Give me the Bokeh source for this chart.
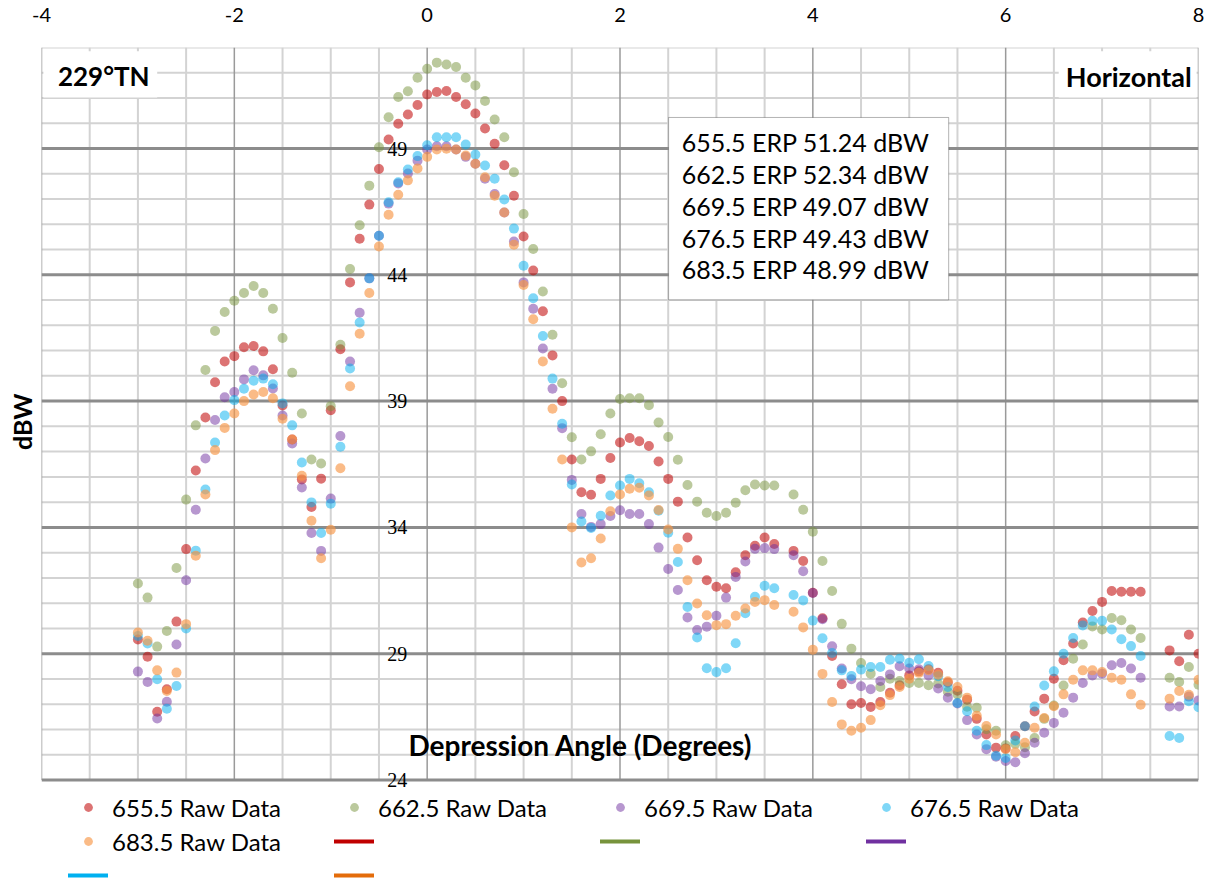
import numpy as np
from bokeh.plotting import figure
from bokeh.models import (Range1d, FixedTicker, Legend, LegendItem, Label, Title,
                          LabelSet, BoxAnnotation, ColumnDataSource)
from bokeh.embed import file_html
from bokeh.resources import INLINE

nan = float("nan")

# ---------------- data ----------------
angle_deg = [-3.0, -2.9, -2.8, -2.7, -2.6, -2.5, -2.4, -2.3, -2.2, -2.1,
             -2.0, -1.9, -1.8, -1.7, -1.6, -1.5, -1.4, -1.3, -1.2, -1.1,
             -1.0, -0.9, -0.8, -0.7, -0.6, -0.5, -0.4, -0.3, -0.2, -0.1,
             0.0, 0.1, 0.2, 0.3, 0.4, 0.5, 0.6, 0.7, 0.8, 0.9,
             1.0, 1.1, 1.2, 1.3, 1.4, 1.5, 1.6, 1.7, 1.8, 1.9,
             2.0, 2.1, 2.2, 2.3, 2.4, 2.5, 2.6, 2.7, 2.8, 2.9,
             3.0, 3.1, 3.2, 3.3, 3.4, 3.5, 3.6, 3.7, 3.8, 3.9,
             4.0, 4.1, 4.2, 4.3, 4.4, 4.5, 4.6, 4.7, 4.8, 4.9,
             5.0, 5.1, 5.2, 5.3, 5.4, 5.5, 5.6, 5.7, 5.8, 5.9,
             6.0, 6.1, 6.2, 6.3, 6.4, 6.5, 6.6, 6.7, 6.8, 6.9,
             7.0, 7.1, 7.2, 7.3, 7.4, 7.5, 7.6, 7.7, 7.8, 7.9,
             8.0]

raw_655_5 = [29.56, 28.88, 26.70, 27.59, 30.27, 33.14, 36.25, 38.35, 39.75, 40.57,
             40.78, 41.13, 41.18, 40.97, 40.26, 38.83, 37.48, 35.90, 34.81, 35.93,
             38.64, 41.05, 43.70, 45.43, 46.78, 48.19, 49.36, 49.98, 50.35, 50.72,
             51.14, 51.24, 51.28, 51.04, 50.75, 50.39, 49.79, 49.19, 48.34, 47.13,
             45.52, 44.17, 42.56, 40.81, 39.00, 36.69, 35.39, 35.29, 35.92, 36.75,
             37.36, 37.54, 37.41, 37.22, 36.61, 35.92, 35.02, 33.60, 32.70, 31.91,
             31.65, 31.59, 32.22, 32.90, 33.27, 33.60, 33.34, nan, 33.07, 32.67,
             31.41, 30.40, 28.91, 27.79, 27.00, 27.05, 26.89, 27.09, 27.45, 27.75,
             28.14, 28.30, 28.38, 28.24, 27.86, 27.53, 27.18, 26.42, 25.80, 25.28,
             25.25, 25.74, 26.13, 26.71, 27.22, 28.01, 28.74, 29.40, 30.23, 30.69,
             31.05, 31.48, 31.45, 31.45, 31.45, nan, nan, 29.13, 28.70, 29.75,
             29.00]

raw_662_5 = [31.78, 31.22, 29.28, 29.90, 32.39, 35.10, 38.04, 40.23, 41.78, 42.53,
             42.97, 43.28, 43.56, 43.28, 42.66, 41.50, 40.12, 38.51, 36.69, 36.53,
             38.80, 41.23, 44.23, 45.96, 47.53, 49.05, 50.24, 51.04, 51.27, 51.80,
             52.16, 52.40, 52.33, 52.23, 51.80, 51.50, 50.88, 50.15, 49.45, 48.06,
             46.41, 45.02, 43.34, 41.63, 39.71, 37.57, 36.69, 37.01, 37.69, 38.51,
             39.08, 39.11, 39.11, 38.84, 38.15, 37.58, 36.68, 35.68, 35.02, 34.58,
             34.45, 34.58, 34.98, 35.47, 35.70, 35.66, 35.66, nan, 35.30, 34.70,
             33.83, 32.67, 31.48, 30.18, 29.20, 28.63, 28.21, 27.68, 28.01, 27.92,
             27.84, 27.84, 27.75, 27.82, 27.49, 27.39, 26.90, 26.86, 26.01, 25.95,
             25.37, 25.43, 25.30, 25.66, 26.42, 26.95, 27.74, 28.80, 29.36, 30.08,
             29.96, 30.41, 30.32, 29.96, 29.62, nan, nan, 28.05, 27.88, 28.47,
             27.77]

raw_669_5 = [28.29, 27.88, 26.43, 27.10, 29.36, 31.91, 34.70, 36.73, 38.25, 39.15,
             39.36, 39.86, 40.22, 40.02, 39.50, 38.43, 37.32, 35.58, 33.78, 33.07,
             35.14, 37.62, 40.57, 42.50, 43.86, 45.55, 46.82, 47.62, 48.01, 48.52,
             48.96, 49.09, 49.09, 48.96, 48.67, 48.40, 47.80, 47.20, 46.47, 45.32,
             43.70, 42.66, 41.08, 39.49, 37.93, 35.88, 34.53, 34.02, 34.13, 34.45,
             34.68, 34.53, 34.53, 34.13, 33.20, 32.35, 31.52, 30.43, 29.94, 30.07,
             30.50, 31.22, 32.04, 32.65, 33.15, 33.18, 33.14, nan, 32.90, 32.26,
             31.40, 30.36, 29.29, 28.41, 27.99, 27.71, 27.59, 27.92, 28.18, 28.50,
             28.41, 28.38, 28.14, 27.62, 27.26, 27.03, 26.37, 25.80, 25.22, 24.92,
             24.75, 24.70, 25.06, 25.47, 25.87, 26.26, 26.66, 27.26, 27.84, 28.14,
             28.21, 28.54, 28.63, 28.41, 28.05, nan, nan, 26.91, 26.91, 27.30,
             27.15]

raw_676_5 = [29.70, 29.40, 27.99, 26.82, 27.72, 30.00, 33.08, 35.50, 37.36, 38.43,
             39.04, 39.49, 39.81, 39.89, 39.67, 38.91, 38.04, 36.57, 34.99, 33.78,
             34.94, 37.19, 40.29, 42.11, 43.86, 45.55, 46.87, 47.66, 48.17, 48.70,
             49.13, 49.45, 49.45, 49.45, 49.16, 48.76, 48.33, 47.80, 46.98, 45.83,
             44.36, 43.07, 41.58, 39.89, 38.10, 35.70, 34.23, 33.98, 34.46, 35.26,
             35.66, 35.92, 35.75, 35.39, 34.66, 33.79, 32.63, 30.85, 29.64, 28.42,
             28.27, 28.42, 29.41, 30.60, 31.25, 31.69, 31.59, nan, 31.32, 31.11,
             30.31, 29.61, 29.03, 28.34, 28.12, 28.37, 28.47, 28.47, 28.76, 28.80,
             28.64, 28.78, 28.51, 28.11, 27.68, 27.05, 26.72, 25.95, 25.38, 24.96,
             24.87, 25.56, 26.13, 26.91, 27.74, 28.30, 29.00, 29.62, 30.12, 30.30,
             30.30, 29.96, 29.57, 29.30, 28.91, nan, nan, 25.74, 25.66, 27.12,
             26.88]

raw_683_5 = [29.84, 29.51, 28.34, 27.52, 28.25, 30.17, 32.88, 35.30, 37.06, 37.94,
             38.51, 39.00, 39.26, 39.36, 39.11, 38.30, 37.48, 36.04, 34.26, 32.78,
             33.91, 36.34, 39.59, 41.67, 43.28, 45.12, 46.38, 47.17, 47.74, 48.21,
             48.67, 48.96, 48.99, 48.96, 48.72, 48.40, 47.86, 47.13, 46.47, 45.19,
             43.60, 42.24, 40.57, 38.70, 36.69, 34.00, 32.61, 32.78, 33.56, 34.64,
             35.30, 35.53, 35.57, 35.26, 34.69, 33.92, 33.15, 31.91, 30.99, 30.52,
             30.13, 30.17, 30.50, 30.79, 31.05, 31.12, 30.93, nan, 30.66, 30.04,
             29.16, 28.20, 27.09, 26.20, 25.95, 26.07, 26.37, 26.96, 27.36, 27.68,
             28.01, 28.24, 28.34, 28.17, 27.91, 27.68, 27.26, 26.54, 26.14, 25.80,
             25.22, 25.10, 25.47, 26.07, 26.45, 26.92, 27.39, 27.97, 28.34, 28.34,
             28.27, 28.05, 27.97, 27.39, 26.98, nan, nan, 27.22, 27.52, 27.37,
             27.97]

channels = ["655.5", "662.5", "669.5", "676.5", "683.5"]
erp_dbw = [51.24, 52.34, 49.07, 49.43, 48.99]

x_tick_vals = [-4, -2, 0, 2, 4, 6, 8]
y_tick_vals = [24, 29, 34, 39, 44, 49]
y_top = 53

# ---------------- styles ----------------
FONT = "Lato"
dot_colors = ["#C00000", "#77933C", "#7030A0", "#00B0F0", "#F79646"]
dot_alphas = [0.55, 0.5, 0.5, 0.5, 0.65]
line_colors = ["#C00000", "#77933C", "#7030A0", "#00B0F0", "#E46C0A"]

src = ColumnDataSource(data=dict(
    angle=np.array(angle_deg, dtype=float),
    s655=np.array(raw_655_5, dtype=float),
    s662=np.array(raw_662_5, dtype=float),
    s669=np.array(raw_669_5, dtype=float),
    s676=np.array(raw_676_5, dtype=float),
    s683=np.array(raw_683_5, dtype=float),
))
cols = ["s655", "s662", "s669", "s676", "s683"]

# the frame reaches down to the canvas bottom so that the legend area
# (below y = 24) belongs to it; grid lines are limited to 24..53
y_bottom = 19.98
p = figure(width=1208, height=881, x_range=Range1d(x_tick_vals[0], x_tick_vals[-1]),
           y_range=Range1d(y_bottom, y_top),
           output_backend="svg", toolbar_location=None, x_axis_location="above",
           min_border_left=41, min_border_right=10, min_border_top=47,
           min_border_bottom=0)
p.outline_line_color = None
p.background_fill_color = "white"
p.border_fill_color = "white"
p.xgrid.visible = False
p.ygrid.visible = False

# x axis (top)
x_minor = [float(v) for v in np.arange(x_tick_vals[0], x_tick_vals[-1] + 0.01, 0.5)]
p.xaxis.ticker = FixedTicker(ticks=x_tick_vals, minor_ticks=[])
p.xaxis.major_label_overrides = {v: str(v) for v in x_tick_vals}
p.xaxis.axis_line_color = None
p.xaxis.major_tick_line_color = None
p.xaxis.minor_tick_line_color = None
p.xaxis.major_label_standoff = 20
p.xaxis.major_label_text_font = FONT
p.xaxis.major_label_text_font_size = "20px"
p.xaxis.major_label_text_color = "black"

# y axis hidden; its title is a side title placed beside the 24..53 span
p.yaxis.visible = False
p.add_layout(Title(text="dBW", align="right", offset=346, standoff=9,
                   text_font=FONT, text_font_style="bold", text_font_size="25px",
                   text_color="black"), "left")

# grid lines drawn as segments between 24 and 53 / -4 and 8
y_lo = y_tick_vals[0]
x_lo, x_hi = x_tick_vals[0], x_tick_vals[-1]
xv_minor = [v for v in x_minor if v not in x_tick_vals]
yh_minor = [v for v in range(y_lo, y_top + 1) if v not in y_tick_vals]
p.segment(x0=xv_minor, y0=[y_lo] * len(xv_minor), x1=xv_minor, y1=[y_top] * len(xv_minor),
          line_color="#d3d3d3", line_width=2)
p.segment(x0=[x_lo] * len(yh_minor), y0=yh_minor, x1=[x_hi] * len(yh_minor), y1=yh_minor,
          line_color="#d3d3d3", line_width=2)
p.segment(x0=x_tick_vals, y0=[y_lo] * len(x_tick_vals), x1=x_tick_vals,
          y1=[y_top] * len(x_tick_vals), line_color="#9a9a9a", line_width=1.5)
p.segment(x0=[x_lo] * len(y_tick_vals), y0=y_tick_vals, x1=[x_hi] * len(y_tick_vals),
          y1=y_tick_vals, line_color="#8c8c8c", line_width=3)

# y tick labels drawn at the x = 0 crossing
ylab_src = ColumnDataSource(data=dict(x=[0] * len(y_tick_vals), y=y_tick_vals,
                                      t=[str(v) for v in y_tick_vals]))
p.add_layout(LabelSet(x="x", y="y", text="t", source=ylab_src, x_offset=-20,
                      text_align="right", text_baseline="middle",
                      text_font=FONT, text_font_size="20px", text_color="black"))

# scatter series
scatter_renderers = []
for col, c, a in zip(cols, dot_colors, dot_alphas):
    r = p.scatter(x="angle", y=col, source=src, size=10, marker="circle",
                  fill_color=c, fill_alpha=a, line_color=None)
    scatter_renderers.append(r)

# line series of the original chart have no visible points; they only show in the legend
line_renderers = []
for c in line_colors:
    lr = p.line(x=[angle_deg[0]], y=[nan], line_color=c, line_width=4, line_cap="round")
    line_renderers.append(lr)

# annotations
p.add_layout(Label(x=1.59, y=25.37, text="Depression Angle (Degrees)",
                   text_align="center", text_baseline="middle", text_font=FONT,
                   text_font_style="bold", text_font_size="28px", text_color="black"))

p.add_layout(BoxAnnotation(left=-3.98, right=-2.80, top=52.85, bottom=51.02,
                           fill_color="white", fill_alpha=1, line_color=None))
p.add_layout(Label(x=-3.83, y=51.86, text="229°TN", text_align="left",
                   text_baseline="middle", text_font=FONT, text_font_style="bold",
                   text_font_size="26px", text_color="black"))
p.add_layout(BoxAnnotation(left=6.55, right=7.98, top=52.85, bottom=51.02,
                           fill_color="white", fill_alpha=1, line_color=None))
p.add_layout(Label(x=7.93, y=51.86, text="Horizontal", text_align="right",
                   text_baseline="middle", text_font=FONT, text_font_style="bold",
                   text_font_size="27px", text_color="black"))

p.add_layout(BoxAnnotation(left=2.504, right=5.409, top=50.23, bottom=43.01,
                           fill_color="white", fill_alpha=1, line_color="black",
                           line_width=1))
erp_top = 49.24
erp_step = 1.255
for i, (ch, v) in enumerate(zip(channels, erp_dbw)):
    p.add_layout(Label(x=2.64, y=erp_top - i * erp_step, text=f"{ch} ERP {v:.2f} dBW",
                       text_align="left", text_baseline="middle", text_font=FONT,
                       text_font_size="25px", text_color="black"))

# legend under the grid (third row partly cut by the canvas edge, as in the original)
items = [LegendItem(label=f"{ch} Raw Data", renderers=[r])
         for ch, r in zip(channels, scatter_renderers)]
items += [LegendItem(label=" ", renderers=[lr]) for lr in line_renderers]
legend = Legend(items=items, ncols=4, orientation="horizontal", location=(27, -11),
                glyph_width=40, glyph_height=22, label_width=222, label_height=34,
                label_standoff=4, spacing=0, padding=0, margin=0,
                border_line_color=None, background_fill_alpha=0,
                label_text_font=FONT, label_text_font_size="24px",
                label_text_color="black")
p.add_layout(legend)

open("out.html", "w").write(file_html(p, INLINE))
